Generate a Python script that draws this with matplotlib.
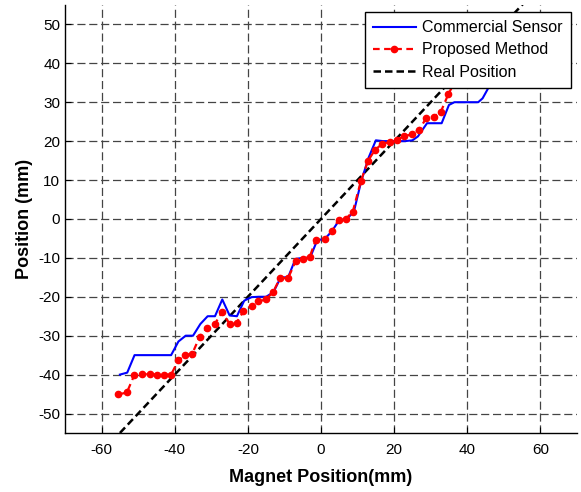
import matplotlib
matplotlib.use("Agg")
import matplotlib.pyplot as plt
import numpy as np

plt.rcParams['font.family'] = ['Liberation Sans', 'DejaVu Sans']
plt.rcParams['axes.unicode_minus'] = False

# Commercial sensor (blue)
blue_x = [-55, -53, -51, -49, -47, -45, -43, -41, -39, -37, -35, -33, -31, -29, -27, -25,
          -23, -21, -19, -17, -15, -13, -11, -9, -7, -5, -3, -1, 1, 3, 5, 7, 9, 11, 13,
          15, 17, 19, 21, 23, 25, 26.5, 29, 31, 33, 35, 36.5, 39, 41, 43, 44.2, 45.5, 47]
blue_y = [-40, -39.5, -35, -35, -35, -35, -35, -35, -31.5, -30, -30, -27, -25, -25, -20.7, -24.8,
          -25, -21, -20.1, -20, -20, -18.8, -15, -15, -10.3, -10, -10, -5.4, -5.2, -3.1, -0.3, -0.1, 1.9, 9.7, 15.7,
          20.2, 20, 20, 20, 20, 20.2, 21.2, 24.6, 24.6, 24.6, 29.3, 30, 30, 30, 30, 31, 33.2, 36]

# Proposed method (red)
red_x = [-55.4, -53.1, -51.1, -49, -46.9, -44.9, -42.9, -41, -39, -37.1, -35.2, -33.2, -31.2,
         -29.1, -27.1, -25, -23.1, -21.2, -19, -17.1, -15.1, -13.1, -11.2, -9, -6.9, -4.9,
         -3.1, -1.4, 1.0, 3.0, 4.8, 6.9, 8.7, 10.9, 12.9, 14.8, 16.8, 18.8, 20.8, 22.7, 24.9,
         26.8, 28.8, 30.9, 32.8, 34.8, 37]
red_y = [-45.1, -44.6, -40.2, -39.9, -39.9, -40, -40, -40, -36.3, -35, -34.6, -30.3, -28,
         -27.1, -24, -26.9, -26.7, -23.7, -22.3, -21.2, -20.7, -18.8, -15.2, -15.2, -10.8, -10.2,
         -9.8, -5.3, -5.2, -3.2, -0.2, 0.1, 1.9, 9.7, 15, 17.8, 19.3, 19.8, 20.4, 21.2, 21.8,
         22.9, 25.9, 26.3, 27.6, 32, 36]

# Real position (black)
real_x = [-55, 60]
real_y = [-55, 60]

xticks = [-60, -40, -20, 0, 20, 40, 60]
yticks = [-50, -40, -30, -20, -10, 0, 10, 20, 30, 40, 50]

fig = plt.figure(figsize=(5.81, 4.92), dpi=100)
ax = fig.add_axes([0.112, 0.12, 0.881, 0.870])

ax.plot(blue_x, blue_y, color='#0000ff', lw=1.5, label='Commercial Sensor', zorder=3)
ax.plot(red_x, red_y, color='#ff0000', lw=1.6, ls=(0, (3, 2)), marker='o', ms=4.5,
        label='Proposed Method', zorder=4)
ax.plot(real_x, real_y, color='black', lw=1.8, ls=(0, (3, 1.6)), label='Real Position', zorder=2)

ax.set_xlim(-70, 70)
ax.set_ylim(-55, 55)
ax.set_xticks(xticks)
ax.set_yticks(yticks)
ax.tick_params(direction='in', length=4, width=0.8, labelsize=11, colors='black',
               top=False, right=False)
ax.tick_params(axis='x', pad=7)
ax.grid(True, color='#444444', lw=0.9, ls=(0, (6.5, 3)))
ax.set_axisbelow(True)
for s in ['top', 'right']:
    ax.spines[s].set_visible(False)
for s in ['left', 'bottom']:
    ax.spines[s].set_linewidth(1.0)

ax.set_xlabel('Magnet Position(mm)', fontsize=13, fontweight='bold', labelpad=9)
ax.set_ylabel('Position (mm)', fontsize=13, fontweight='bold', labelpad=4)

leg = ax.legend(loc='upper right', bbox_to_anchor=(0.9875, 0.983), fontsize=11.5,
                frameon=True, fancybox=False, edgecolor='black', framealpha=1,
                handlelength=2.7, borderpad=0.5, labelspacing=0.45, handletextpad=0.4,
                borderaxespad=0)
leg.get_frame().set_linewidth(1.0)
leg.set_zorder(10)

fig.savefig('out.png', dpi=100)
